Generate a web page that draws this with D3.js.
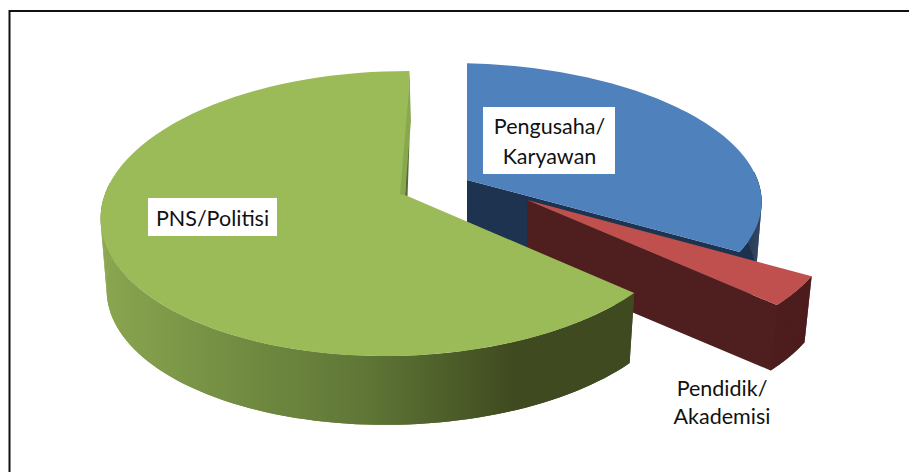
<!DOCTYPE html>
<html><head><meta charset="utf-8">
<script src="https://cdn.jsdelivr.net/npm/d3@7/dist/d3.min.js"></script>
<style>html,body{margin:0;padding:0;background:#fff}svg{display:block}</style>
</head><body><svg id="c" width="909" height="472"></svg>
<script>
const categories = ["Pengusaha/Karyawan", "Pendidik/Akademisi", "PNS/Politisi"];
const values = [33.1, 3.5, 63.4];
const topColors = ["#4f81bd", "#c0504d", "#9bbb59"];
const wallColors = ["#1d3350", "#4f1e1e", "#404a20"];
const labelLines = [["Pengusaha/", "Karyawan"], ["Pendidik/", "Akademisi"], ["PNS/Politisi"]];

// slice placement in the projected plane
const centers = [[467, 180], [527, 200], [405, 195]];
const radiiX = [298, 311, 292];
const radiiY = [132, 142, 140];
const tilts = [5, 4, -2];
const skews = [0, 0, -5];
const depths = [71, 68, 72];
const shrinks = [0.98, 0.975, 0.98];
const sideLean = [-0.02, -0.02, -0.03];
const k = 0.13;

const svg = d3.select("#c");
const defs = svg.append("defs");
const grad = defs.append("linearGradient").attr("id", "gw").attr("gradientUnits", "userSpaceOnUse")
  .attr("x1", 101).attr("x2", 632).attr("y1", 0).attr("y2", 0);
[[0, "#8aa650"], [0.25, "#738d42"], [0.5, "#5f7636"], [0.78, "#3f4a20"], [1, "#404a20"]]
  .forEach(s => grad.append("stop").attr("offset", s[0]).attr("stop-color", s[1]));

const arcs = d3.pie().sort(null).value(d => d)(values);
const line = d3.line();

function project(i, angle, r, low) {
  const u = r * Math.sin(angle), v = -r * Math.cos(angle);
  const w = 1 - k * v - sideLean[i] * u;
  const s = low ? shrinks[i] : 1;
  return [
    centers[i][0] + s * (radiiX[i] * u + skews[i] * v) / w,
    centers[i][1] + s * (radiiY[i] * v + tilts[i] * u) / w + (low ? depths[i] : 0)
  ];
}
const rim = (i, a0, a1, low) => d3.range(0, 81).map(t => project(i, a0 + (a1 - a0) * t / 80, 1, low));

function drawWalls(i, fill) {
  const a = arcs[i];
  // only the part of the rim that faces the viewer has a visible wall
  const a0 = Math.max(a.startAngle, Math.acos(0.1)), a1 = Math.min(a.endAngle, 2 * Math.PI - Math.acos(0.1));
  const top = rim(i, a0, a1, false), bottom = rim(i, a0, a1, true);
  const g = svg.append("g").attr("fill", fill);
  g.append("path").attr("d",
      line(top.concat(bottom.slice().reverse())) + "Z" +
      line([project(i, a.endAngle, 0, false), project(i, a.endAngle, 1, false),
            project(i, a.endAngle, 1, true), project(i, a.endAngle, 0, true)]) + "Z");
  // sweep each rim segment so the silhouette follows the tangent between rims
  g.selectAll("path.seg").data(d3.range(0, 80)).join("path").attr("class", "seg")
    .attr("d", t => line([top[t], top[t + 1], bottom[t + 1], bottom[t]]) + "Z");
}
function drawTop(i) {
  const a = arcs[i];
  svg.append("path").attr("fill", topColors[i]).attr("d",
    line([project(i, a.startAngle, 0, false)].concat(rim(i, a.startAngle, a.endAngle, false))) + "Z");
}

// frame
svg.append("path").attr("d", "M9.5,472V11H909").attr("fill", "none").attr("stroke", "#111").attr("stroke-width", 2);

drawWalls(0, wallColors[0]); drawTop(0);
drawWalls(1, wallColors[1]); drawTop(1);
drawWalls(2, "url(#gw)"); drawTop(2);

// thin inner face of the green slice at its closing cut
const ga = arcs[2];
const gApex = project(2, ga.endAngle, 0, false), gTop = project(2, ga.endAngle, 1, false);
svg.append("path").attr("fill", "#88a84e").attr("d", line([gTop, [gTop[0] + 1.5, gTop[1] + 50], gApex, [gApex[0] - 5, gApex[1] - 1], [gTop[0] - 1, gTop[1] + 25]]) + "Z");

// labels
const font = "Lato, Carlito, Calibri, sans-serif";
const fs = 21.5;
const labelBoxes = [[483, 107, 132, 67], null, [148, 198, 129, 38]];
const labelCenters = [[549.5, 134], [722, 396], [212.5, 226]];
const lineGaps = [30, 28, 0];
labelLines.forEach((ls, i) => {
  const b = labelBoxes[i];
  if (b) svg.append("rect").attr("x", b[0]).attr("y", b[1]).attr("width", b[2]).attr("height", b[3]).attr("fill", "#fff");
  ls.forEach((t, j) => svg.append("text").attr("x", labelCenters[i][0]).attr("y", labelCenters[i][1] + j * lineGaps[i])
    .attr("text-anchor", "middle").attr("font-family", font).attr("font-size", fs).attr("fill", "#111").text(t));
});
</script></body></html>
